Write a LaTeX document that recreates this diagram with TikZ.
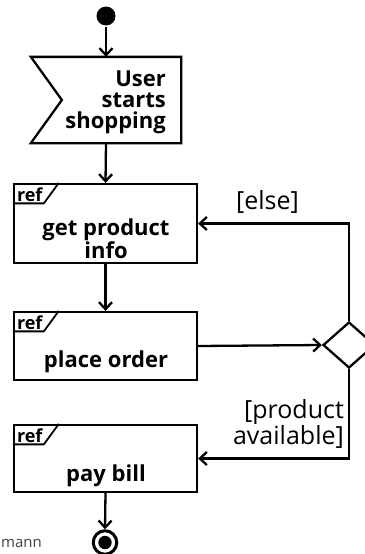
\documentclass[tikz,border=0pt]{standalone}
\usepackage{fontspec}
\setmainfont{Open Sans}
\usetikzlibrary{arrows.meta,shapes.geometric,calc}
\begin{document}
\begin{tikzpicture}[x=1pt,y=-1pt,
  line width=2.3pt,
  flow/.style={-{Straight Barb[length=7pt,width=13pt,line width=2.3pt]}},
  actbox/.style={draw, rectangle, minimum width=183pt, inner sep=0pt},
  bodytext/.style={font=\bfseries\fontsize{22}{21}\selectfont, align=center, inner sep=0pt},
  guard/.style={font=\fontsize{25}{26}\selectfont, inner sep=0pt},
  reftag/.style={font=\bfseries\fontsize{18}{18}\selectfont, inner sep=0pt, anchor=base west}]
\useasboundingbox (0,0) rectangle (364,554);

% initial and final nodes
\node[circle, fill=black, inner sep=0pt, minimum size=19pt] (start) at (106,16) {};
\node[circle, draw, line width=3pt, inner sep=0pt, minimum size=23.5pt] (final) at (105,542.5) {};
\fill (final.center) circle (6.7pt);

% accept event action
\node[minimum width=148pt, minimum height=84pt, inner sep=0pt] (event) at (106,100) {};
\draw (event.north west) -- (event.north east) -- (event.south east) -- (event.south west)
      -- ($(event.west)+(31,0)$) -- cycle;
\node[bodytext, align=right, anchor=east] (eventtext) at (167,102.5) {User\\starts\\shopping};

% call behavior actions with ref tags
\node[actbox, minimum height=79pt] (getinfo) at (105.5,223.5) {};
\node[actbox, minimum height=68pt] (place) at (105.5,346) {};
\node[actbox, minimum height=67pt] (pay) at (105.5,458.5) {};

\foreach \b in {getinfo,place,pay}{
  \draw[line width=1.8pt] (\b.north west) ++(0,20.5) -- ++(31,0) -- ++(15,-20.5);
  \node[reftag] at ([shift={(3,18.5)}]\b.north west) {ref};
}

\node[bodytext] (getinfotext) at (106,239) {get product\\info};
\node[bodytext, anchor=base] (placetext) at (106,367) {place order};
\node[bodytext, anchor=base] (paytext) at (106,481) {pay bill};

% decision node
\node[diamond, draw, inner sep=0pt, minimum width=52pt, minimum height=46pt] (dec) at (349,345) {};

% control flows
\draw[flow] (start) -- (event.north);
\draw[flow] (event.south) -- (getinfo.north);
\draw[flow] (getinfo.south) -- (place.north);
\draw[flow] (place.east) -- (dec.west);
\draw[flow] (dec.north) |- (getinfo.east);
\draw[flow] (dec.south) |- (pay.east);
\draw[flow] (pay.south) -- (final.north);

% guards
\node[guard, anchor=base west] (elseguard) at (235,209) {[else]};
\node[guard, align=right, anchor=east] (availguard) at (345,424) {[product\\available]};

% credit line
\node[font=\fontsize{15}{16}\selectfont, text=black!75, inner sep=0pt, anchor=base west] (credit) at (0,547) {mann};
\end{tikzpicture}
\end{document}
